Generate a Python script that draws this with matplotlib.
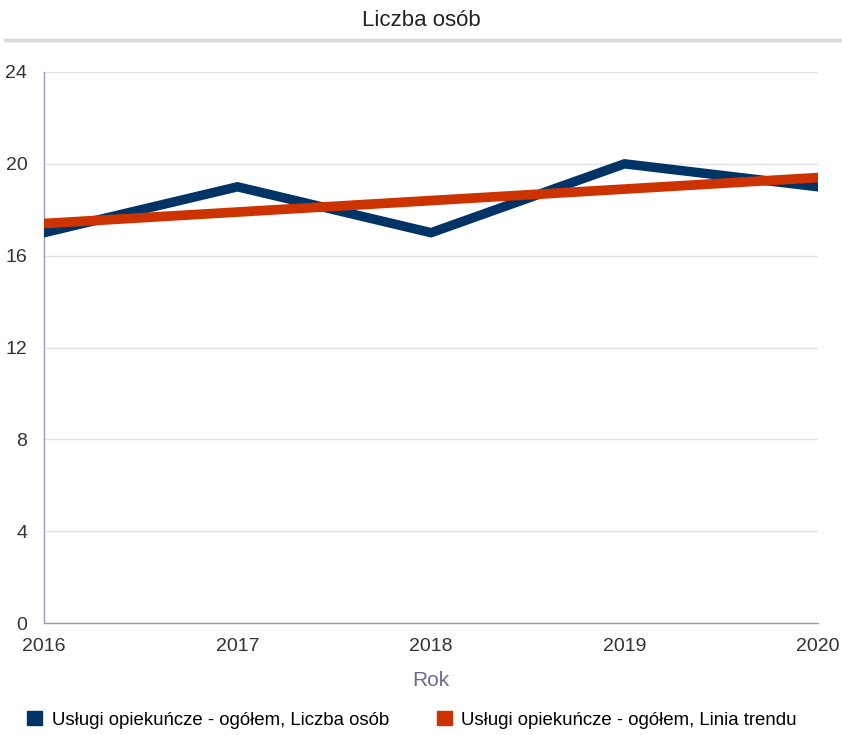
import matplotlib
matplotlib.use("Agg")
import matplotlib.pyplot as plt
from matplotlib.lines import Line2D
from matplotlib.patches import Patch

plt.rcParams['font.family'] = ['Liberation Sans Narrow', 'Liberation Sans', 'DejaVu Sans']

years = [2016, 2017, 2018, 2019, 2020]
persons = [17, 19, 17, 20, 19]
trend = [17.4, 17.9, 18.4, 18.9, 19.4]
y_ticks = [0, 4, 8, 12, 16, 20, 24]

navy = "#003366"
red = "#cc3300"
axis_col = "#9a9ab8"

fig = plt.figure(figsize=(8.42, 7.35), dpi=100)
ax = fig.add_axes([44 / 842, 1 - 623 / 735, (818 - 44) / 842, (623 - 72) / 735])

ax.plot(years, persons, color=navy, lw=6.8, solid_joinstyle="miter", zorder=3)
ax.plot(years, trend, color=red, lw=7, zorder=4)

ax.set_xlim(2016, 2020)
ax.set_ylim(0, 24)
ax.set_yticks(y_ticks)
ax.set_xticks(years)
ax.grid(axis="y", color="#e2e2ea", lw=1)
ax.set_axisbelow(True)
for s in ["top", "right"]:
    ax.spines[s].set_visible(False)
for s in ["left", "bottom"]:
    ax.spines[s].set_color(axis_col)
    ax.spines[s].set_linewidth(1)
ax.tick_params(axis="y", length=0, pad=12, labelsize=14, labelcolor="#333333")
ax.tick_params(axis="x", length=0, pad=11, labelsize=14, labelcolor="#333333")
ax.set_xlabel("Rok", fontsize=15, color="#6a6a90", labelpad=11)

fig.text(0.5, 1 - 20 / 735, "Liczba osób", ha="center", va="center", fontsize=16, color="#222222")
fig.add_artist(Line2D([5 / 842, 1], [1 - 40 / 735] * 2, color="#d8d8e0", lw=2.5))

handles = [Patch(color=navy, label="Usługi opiekuńcze - ogółem, Liczba osób"),
           Patch(color=red, label="Usługi opiekuńcze - ogółem, Linia trendu")]
fig.legend(handles=handles, loc="center left", bbox_to_anchor=(18 / 842, 1 - 720 / 735), ncol=2,
           frameon=False, fontsize=13.4, handlelength=0.8, handleheight=0.8,
           handletextpad=0.5, columnspacing=2.6, borderpad=0)

fig.savefig("out.png", dpi=100)
